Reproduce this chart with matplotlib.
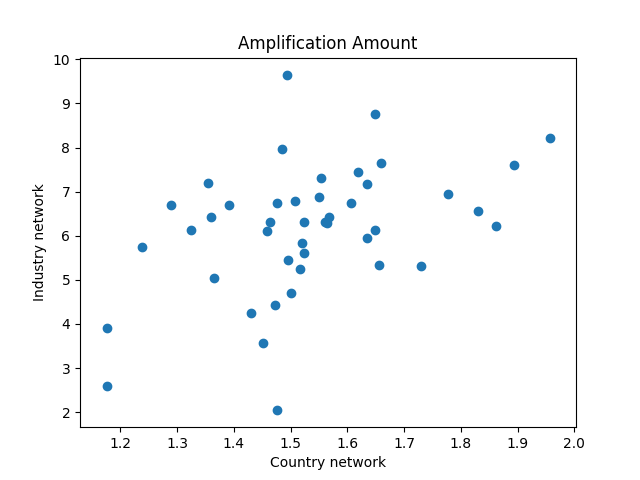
import numpy as np
import matplotlib.pyplot as plt

country = [1.176, 1.176, 1.238, 1.289, 1.325, 1.355, 1.360, 1.365, 1.392, 1.430,
           1.451, 1.459, 1.463, 1.473, 1.477, 1.477, 1.485, 1.494, 1.496, 1.501,
           1.507, 1.517, 1.521, 1.523, 1.524, 1.551, 1.554, 1.561, 1.565, 1.567,
           1.607, 1.619, 1.634, 1.635, 1.648, 1.649, 1.656, 1.660, 1.730, 1.778,
           1.830, 1.862, 1.894, 1.958]
industry = [3.90, 2.60, 5.74, 6.70, 6.13, 7.19, 6.42, 5.04, 6.70, 4.25,
            3.57, 6.10, 6.32, 4.43, 2.05, 6.74, 7.97, 9.64, 5.45, 4.70,
            6.78, 5.24, 5.83, 6.31, 5.62, 6.88, 7.30, 6.31, 6.28, 6.43,
            6.74, 7.44, 7.17, 5.96, 6.12, 8.76, 5.33, 7.64, 5.31, 6.95,
            6.56, 6.22, 7.60, 8.21]

fig, ax = plt.subplots(figsize=(6.4, 4.8), dpi=100)
ax.scatter(country, industry)
ax.set_xlim(1.129, 2.003)
ax.set_ylim(1.66, 10.04)
ax.set_title('Amplification Amount')
ax.set_xlabel('Country network')
ax.set_ylabel('Industry network')
fig.savefig('out.png')
